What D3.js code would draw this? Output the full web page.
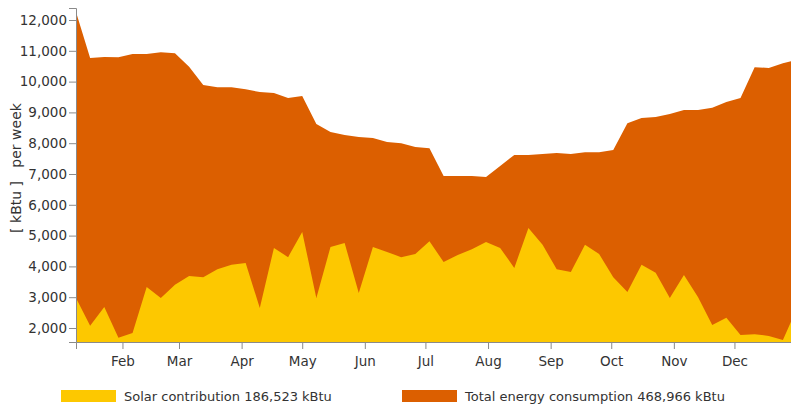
<!DOCTYPE html>
<html>
<head>
<meta charset="utf-8">
<script src="https://cdn.jsdelivr.net/npm/d3@7"></script>
<style>
  body { margin: 0; background: #fff; }
  svg text { font-family: "DejaVu Sans", Verdana, sans-serif; fill: #333; }
</style>
</head>
<body>
<div id="chart-container"></div>
<script>
// weekly values (kBtu per week)
const totalKBtu = [12260, 10770, 10800, 10790, 10900, 10900, 10950, 10920, 10480, 9890,
    9815, 9815, 9750, 9660, 9630, 9470, 9530, 8620, 8360, 8270,
    8200, 8170, 8040, 8000, 7880, 7840, 6935, 6935, 6935, 6900,
    7260, 7620, 7620, 7650, 7680, 7650, 7710, 7710, 7780, 8650,
    8820, 8850, 8950, 9080, 9080, 9150, 9340, 9470, 10470, 10440,
    10600, 10700];
const solarKBtu = [2970, 2070, 2680, 1680, 1840, 3330, 2970, 3400, 3690, 3650,
    3910, 4050, 4110, 2650, 4600, 4300, 5120, 2970, 4630, 4760,
    3140, 4630, 4470, 4300, 4400, 4820, 4140, 4370, 4560, 4790,
    4600, 3950, 5250, 4700, 3910, 3820, 4700, 4400, 3650, 3170,
    4050, 3790, 2970, 3720, 3000, 2100, 2330, 1770, 1800, 1740,
    1610, 2650];
const yTicks = [2000, 3000, 4000, 5000, 6000, 7000, 8000, 9000, 10000, 11000, 12000];
const legendItems = [
    { label: "Solar contribution 186,523 kBtu", color: "#fdc800" },
    { label: "Total energy consumption 468,966 kBtu", color: "#dc5f00" }
];

const firstWeek = new Date(2023, 0, 9);
const weeks = totalKBtu.map((_, i) => d3.timeDay.offset(firstWeek, i * 7));

const W = 791, H = 405;
const plot = { left: 76, right: 791, top: 8, bottom: 342 };

const svg = d3.select("#chart-container").append("svg")
    .attr("width", W)
    .attr("height", H);

const x = d3.scaleTime()
    .domain([firstWeek, new Date(2023, 11, 29)])
    .range([plot.left, plot.right]);

const y = d3.scaleLinear()
    .domain([1545, 12390])
    .range([plot.bottom, plot.top]);

svg.append("clipPath").attr("id", "plot-clip")
    .append("rect")
    .attr("x", plot.left).attr("y", plot.top)
    .attr("width", plot.right - plot.left)
    .attr("height", plot.bottom - plot.top);

const areaOf = values => d3.area()
    .x((d, i) => x(weeks[i]))
    .y0(plot.bottom)
    .y1(d => y(d))(values);

const g = svg.append("g").attr("clip-path", "url(#plot-clip)");

g.append("path")
    .attr("d", areaOf(totalKBtu))
    .attr("fill", legendItems[1].color);

g.append("path")
    .attr("d", areaOf(solarKBtu))
    .attr("fill", legendItems[0].color);

// axes
const yAxis = svg.append("g")
    .attr("transform", `translate(${plot.left},0)`)
    .call(d3.axisLeft(y).tickValues(yTicks).tickFormat(d3.format(",")).tickSize(7).tickPadding(2));

const xAxis = svg.append("g")
    .attr("transform", `translate(0,${plot.bottom})`)
    .call(d3.axisBottom(x)
        .tickValues(d3.timeMonth.range(new Date(2023, 1, 1), new Date(2023, 11, 2)))
        .tickFormat(d3.timeFormat("%b"))
        .tickSize(7));

[yAxis, xAxis].forEach(a => {
    a.select(".domain").attr("stroke", "#8a8a8a");
    a.selectAll(".tick line").attr("stroke", "#8a8a8a");
    a.selectAll("text").style("font-size", "13.5px").attr("fill", "#333");
});
xAxis.selectAll("text").attr("y", 14.5);

svg.append("text")
    .attr("transform", "translate(21,168) rotate(-90)")
    .attr("text-anchor", "middle")
    .style("font-size", "14px")
    .attr("xml:space", "preserve")
    .text("[ kBtu ]   per week");

// legend
const legendX = [61, 402];
const legend = svg.selectAll(".legend")
    .data(legendItems)
    .enter().append("g")
    .attr("class", "legend")
    .attr("transform", (d, i) => `translate(${legendX[i]},390)`);

legend.append("rect")
    .attr("width", 55)
    .attr("height", 12)
    .attr("fill", d => d.color);

legend.append("text")
    .attr("x", 63)
    .attr("y", 11)
    .style("font-size", "13px")
    .text(d => d.label);
</script>
</body>
</html>
